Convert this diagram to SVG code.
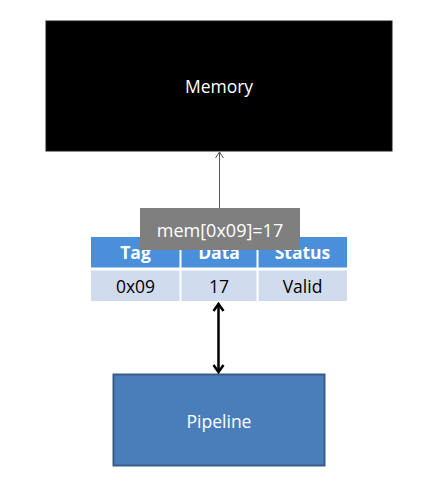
<svg xmlns="http://www.w3.org/2000/svg" width="448" height="493" viewBox="0 0 448 493">
<style>
text{font-family:"Open Sans","Liberation Sans",sans-serif;font-size:17.5px;text-anchor:middle}
.w{fill:#ffffff}
.k{fill:#000000}
.b{font-weight:bold}
.hdr{fill:#4A8FDA}
.row{fill:#D0DCEE}
.sep{stroke:#ffffff;stroke-width:2}
</style>
<defs>
<marker id="thin" markerUnits="userSpaceOnUse" markerWidth="12" markerHeight="12" refX="7" refY="5" orient="auto-start-reverse" viewBox="0 0 12 10">
<path d="M1,1 L7,5 L1,9" fill="none" stroke="#555555" stroke-width="1"/>
</marker>
<marker id="thick" markerUnits="userSpaceOnUse" markerWidth="14" markerHeight="14" refX="8" refY="6" orient="auto-start-reverse" viewBox="0 0 14 12">
<path d="M1,1 L8,6 L1,11" fill="none" stroke="#000000" stroke-width="2.5"/>
</marker>
</defs>
<rect width="448" height="493" fill="#ffffff"/>
<g id="memory">
<rect x="46" y="21" width="346" height="130" fill="#000000" stroke="#1a1a1a" stroke-width="1"/>
<text x="219" y="93" class="w">Memory</text>
</g>
<g id="cache-table">
<rect x="91" y="237" width="256" height="30.5" class="hdr"/>
<rect x="91" y="270.5" width="256" height="30.5" class="row"/>
<line x1="180.5" y1="237" x2="180.5" y2="301" class="sep"/>
<line x1="257.5" y1="237" x2="257.5" y2="301" class="sep"/>
<text x="135.5" y="259" class="w b">Tag</text>
<text x="219" y="259" class="w b">Data</text>
<text x="302.5" y="259" class="w b">Status</text>
<text x="135.5" y="292.5" class="k">0x09</text>
<text x="219" y="292.5" class="k">17</text>
<text x="302.5" y="292.5" class="k">Valid</text>
</g>
<g id="pipeline">
<rect x="113.5" y="374.5" width="211" height="91" fill="#4A7EBB" stroke="#385D8A" stroke-width="2"/>
<text x="219" y="428" class="w">Pipeline</text>
</g>
<g id="connectors">
<line x1="219.5" y1="208" x2="219.5" y2="152" stroke="#555555" stroke-width="1" marker-end="url(#thin)"/>
<line x1="218.5" y1="304" x2="218.5" y2="372" stroke="#000000" stroke-width="2.5" marker-start="url(#thick)" marker-end="url(#thick)"/>
</g>
<g id="write-label">
<rect x="140" y="208" width="160" height="42" fill="#7F7F7F"/>
<text x="220" y="237" class="w" style="font-size:18px">mem[0x09]=17</text>
</g>
</svg>
